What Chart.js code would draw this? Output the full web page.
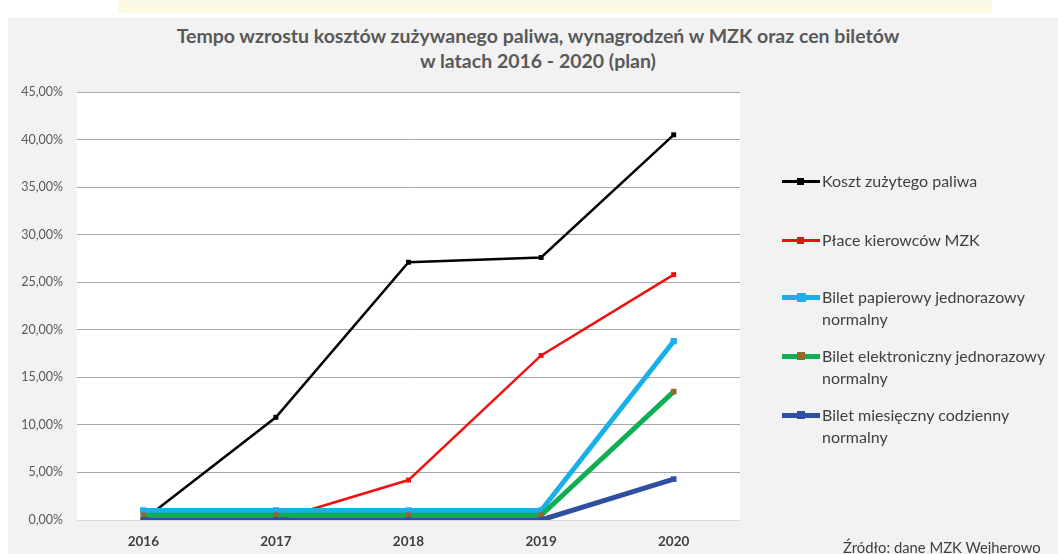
<!DOCTYPE html>
<html>
<head>
<meta charset="utf-8">
<script src="https://cdn.jsdelivr.net/npm/chart.js@4"></script>
<style>
  body { margin: 0; background: #fff; font-family: Lato, "Open Sans", sans-serif; }
  #wrap { position: relative; width: 1058px; height: 554px; overflow: hidden; }
  #band { position: absolute; left: 118px; top: 0; width: 874px; height: 13px; background: #fcfae6; }
  #panel { position: absolute; left: 8px; top: 18px; right: 0; bottom: 0; background: #f2f2f2; }
  #title { position: absolute; left: 0; width: 1076px; top: 23px; text-align: center;
           font-size: 19.5px; font-weight: bold; color: #595959; line-height: 25px; }
  canvas { position: absolute; left: 0; top: 0; }
  #legend { position: absolute; left: 782px; top: 0; }
  .item { position: absolute; left: 0; width: 290px; font-size: 16px; color: #404040; line-height: 22px; white-space: nowrap; }
  .sample { position: absolute; left: 0; top: 11px; width: 38px; }
  .sample i { position: absolute; left: 15px; }
  .txt { position: absolute; left: 40px; top: 0; }
  #source { position: absolute; left: 843px; top: 538px; font-size: 14.8px; color: #404040; }
</style>
</head>
<body>
<div id="wrap">
  <div id="band"></div>
  <div id="panel"></div>
  <div id="title">Tempo wzrostu kosztów zużywanego paliwa, wynagrodzeń w MZK oraz cen biletów<br>w latach 2016 - 2020 (plan)</div>
  <canvas id="chart" width="1058" height="554"></canvas>
  <div id="legend"></div>
  <div id="source">Źródło: dane MZK Wejherowo</div>
</div>
<script>
const years = ['2016', '2017', '2018', '2019', '2020'];
const seriesNames = [
  'Koszt zużytego paliwa',
  'Płace kierowców MZK',
  'Bilet papierowy jednorazowy normalny',
  'Bilet elektroniczny jednorazowy normalny',
  'Bilet miesięczny codzienny normalny'
];
const fuel = [0, 10.8, 27.1, 27.6, 40.5];
const wages = [0, 0, 4.2, 17.3, 25.8];
const paperTicket = [1.0, 1.0, 1.0, 1.0, 18.8];
const eTicket = [0.5, 0.5, 0.5, 0.5, 13.5];
const monthlyTicket = [0, 0, 0, 0, 4.3];
const yTicks = [0, 5, 10, 15, 20, 25, 30, 35, 40, 45];

const styles = [
  { color: '#000000', marker: '#000000', width: 2.5, size: 3.5 },
  { color: '#f01010', marker: '#f01010', width: 2.5, size: 3.5 },
  { color: '#18b0ea', marker: '#18b0ea', width: 5, size: 4.5 },
  { color: '#10ae52', marker: '#93692a', width: 5, size: 4 },
  { color: '#2f50a0', marker: '#2f50a0', width: 5, size: 4 }
];
const values = [fuel, wages, paperTicket, eTicket, monthlyTicket];

const datasets = values.map(function(v, i) {
  const s = styles[i];
  return {
    label: seriesNames[i],
    data: v,
    borderColor: s.color,
    backgroundColor: s.marker,
    pointBorderColor: s.marker,
    pointBackgroundColor: s.marker,
    borderWidth: s.width,
    pointStyle: 'rect',
    pointRadius: s.size,
    pointBorderWidth: 0,
    tension: 0,
    order: 5 - i
  };
});

const plotBg = {
  id: 'plotBg',
  beforeDraw(chart) {
    const a = chart.chartArea, c = chart.ctx;
    c.save();
    c.fillStyle = '#ffffff';
    c.fillRect(a.left, a.top, a.right - a.left, a.bottom - a.top);
    c.restore();
  }
};

new Chart(document.getElementById('chart'), {
  type: 'line',
  data: { labels: years, datasets: datasets },
  options: {
    responsive: false,
    animation: false,
    layout: { padding: { left: 0, top: 92, right: 318, bottom: 0 } },
    plugins: { legend: { display: false }, title: { display: false }, tooltip: { enabled: false } },
    scales: {
      x: {
        offset: true,
        grid: { display: false, drawTicks: false },
        border: { display: false },
        ticks: { color: '#404040', font: { family: 'Lato', size: 13.5, weight: 'bold' }, padding: 14 },
        afterFit(scale) { scale.height = 34; }
      },
      y: {
        min: 0,
        max: 45,
        afterBuildTicks(scale) { scale.ticks = yTicks.map(v => ({ value: v })); },
        grid: {
          color: ctx => ctx.tick && ctx.tick.value === 0 ? '#d9d9d9' : '#a6a6a6',
          lineWidth: 1,
          drawTicks: false
        },
        border: { display: false },
        ticks: {
          color: '#595959',
          font: { family: 'Lato', size: 12.5 },
          padding: 14,
          callback: v => v.toFixed(2).replace('.', ',') + '%'
        },
        afterFit(scale) { scale.width = 77; }
      }
    }
  },
  plugins: [plotBg]
});

// legend
const legendTops = [170, 229, 286, 345, 404];
const legendLines = [
  ['Koszt zużytego paliwa'],
  ['Płace kierowców MZK'],
  ['Bilet papierowy jednorazowy', 'normalny'],
  ['Bilet elektroniczny jednorazowy', 'normalny'],
  ['Bilet miesięczny codzienny', 'normalny']
];
const legend = document.getElementById('legend');
styles.forEach(function(s, i) {
  const item = document.createElement('div');
  item.className = 'item';
  item.style.top = legendTops[i] + 'px';
  const sample = document.createElement('div');
  sample.className = 'sample';
  sample.style.height = Math.round(s.width) + 'px';
  sample.style.marginTop = (-Math.round(s.width) / 2) + 'px';
  sample.style.background = s.color;
  const m = document.createElement('i');
  const sz = Math.round(s.size * 2);
  m.style.width = sz + 'px';
  m.style.height = sz + 'px';
  m.style.top = ((Math.round(s.width) - sz) / 2) + 'px';
  m.style.background = s.marker;
  sample.appendChild(m);
  const txt = document.createElement('div');
  txt.className = 'txt';
  txt.innerHTML = legendLines[i].join('<br>');
  item.appendChild(sample);
  item.appendChild(txt);
  legend.appendChild(item);
});
</script>
</body>
</html>
